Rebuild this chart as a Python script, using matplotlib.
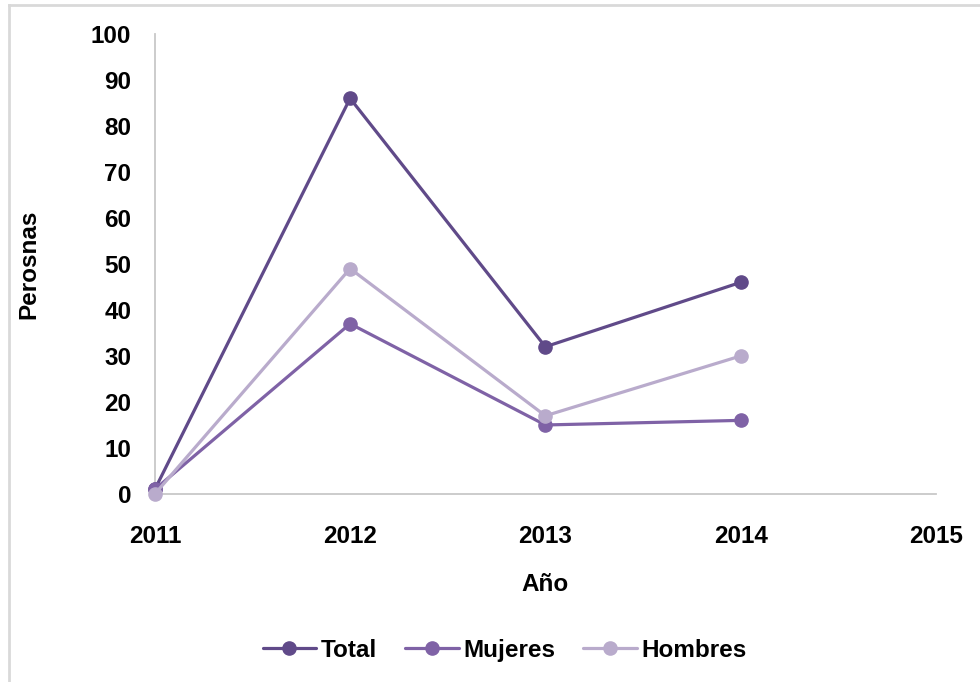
import matplotlib
matplotlib.use("Agg")
import matplotlib.pyplot as plt
from matplotlib.lines import Line2D

years = [2011, 2012, 2013, 2014]
total = [1, 86, 32, 46]
mujeres = [1, 37, 15, 16]
hombres = [0, 49, 17, 30]
series_names = ["Total", "Mujeres", "Hombres"]
colors = ["#604a89", "#7f62a6", "#b9abcc"]

plt.rcParams['font.family'] = ['Liberation Sans', 'DejaVu Sans']

fig = plt.figure(figsize=(9.8, 6.82), dpi=100)
ax = fig.add_axes([0.158, 0.2757, 0.797, 0.6745])

for vals, name, c in zip([total, mujeres, hombres], series_names, colors):
    ax.plot(years, vals, color=c, lw=2.3, marker='o', ms=9.5, label=name,
            solid_capstyle='round', clip_on=False, zorder=3)

ax.set_xlim(2011, 2015)
ax.set_ylim(0, 100)
ax.set_xticks([2011, 2012, 2013, 2014, 2015])
ax.set_yticks(range(0, 101, 10))
ax.tick_params(axis='both', length=0, labelsize=17.5)
for lab in ax.get_xticklabels() + ax.get_yticklabels():
    lab.set_fontweight('bold')
ax.tick_params(axis='x', pad=22)
ax.tick_params(axis='y', pad=17)

for s in ['top', 'right']:
    ax.spines[s].set_visible(False)
for s in ['left', 'bottom']:
    ax.spines[s].set_color('#c8c8c8')
    ax.spines[s].set_linewidth(1.3)

ax.set_xlabel("Año", fontsize=17.5, fontweight='bold', labelpad=18)
ax.set_ylabel("Perosnas", fontsize=17.5, fontweight='bold', labelpad=36)

leg = ax.legend(loc='center', bbox_to_anchor=(0.448, -0.34), ncol=3, frameon=False,
                prop={'size': 17.5, 'weight': 'bold'}, handlelength=2.2,
                columnspacing=1.15, handletextpad=0.2)

# figure border lines (left and top)
fig.add_artist(Line2D([0.009, 0.009], [0, 0.993], transform=fig.transFigure,
                      color='#d9d9d9', lw=2))
fig.add_artist(Line2D([0.009, 1.0], [0.993, 0.993], transform=fig.transFigure,
                      color='#d9d9d9', lw=2))

fig.savefig("out.png", dpi=100)
